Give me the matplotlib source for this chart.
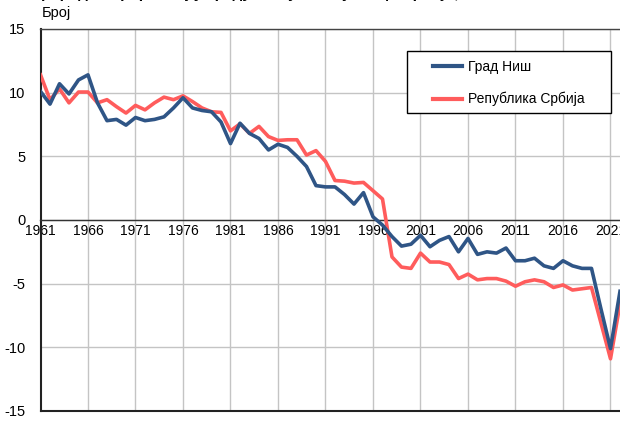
import matplotlib
matplotlib.use("Agg")
import matplotlib.pyplot as plt
from matplotlib.patches import Rectangle

plt.rcParams['font.family'] = ['Liberation Sans', 'DejaVu Sans']

years = list(range(1961, 2023))
nis = [10.1, 9.1, 10.7, 9.9, 11.0, 11.4, 9.2, 7.8, 7.9, 7.45,
       8.05, 7.8, 7.9, 8.1, 8.8, 9.6, 8.8, 8.6, 8.5, 7.7,
       6.0, 7.6, 6.8, 6.4, 5.5, 5.95, 5.7, 5.0, 4.2, 2.7,
       2.6, 2.6, 2.0, 1.25, 2.15, 0.25, -0.4, -1.3, -2.05, -1.9,
       -1.2, -2.1, -1.6, -1.3, -2.5, -1.45, -2.7, -2.5, -2.6, -2.2,
       -3.2, -3.2, -3.0, -3.6, -3.8, -3.2, -3.6, -3.8, -3.8, -7.0,
       -10.1, -5.6]
srbija = [11.4, 9.45, 10.3, 9.2, 10.05, 10.05, 9.2, 9.45, 8.9, 8.4,
          9.0, 8.65, 9.2, 9.65, 9.45, 9.75, 9.3, 8.8, 8.5, 8.45,
          7.0, 7.55, 6.8, 7.35, 6.55, 6.25, 6.3, 6.3, 5.1, 5.45,
          4.6, 3.1, 3.05, 2.9, 2.95, 2.3, 1.65, -2.9, -3.7, -3.8,
          -2.6, -3.3, -3.3, -3.5, -4.6, -4.25, -4.7, -4.6, -4.6, -4.8,
          -5.2, -4.85, -4.7, -4.85, -5.3, -5.1, -5.5, -5.4, -5.3, -8.1,
          -10.9, -6.6]
series_names = ['Град Ниш', 'Република Србија']
colors = ['#2F5586', '#FF5C5C']
x_ticks = list(range(1961, 2022, 5))
x_labels = [str(y) for y in x_ticks]
y_ticks = [15, 10, 5, 0, -5, -10, -15]

W, H = 620, 428
fig = plt.figure(figsize=(6.2, 4.28), dpi=100)
ax = fig.add_axes([40.5/W, 1-411/H, (61.7*9.5)/W, (411-29)/H])

ax.plot(years, nis, color=colors[0], lw=2.6, label=series_names[0], solid_joinstyle='round', zorder=4)
ax.plot(years, srbija, color=colors[1], lw=2.6, label=series_names[1], solid_joinstyle='round', zorder=3)

ax.set_xlim(1961, 2022.7)
ax.set_ylim(-15, 15)
ax.set_xticks(x_ticks)
ax.set_xticklabels(x_labels, fontsize=10.5)
ax.set_yticks(y_ticks)
ax.set_yticklabels([str(v) for v in y_ticks], fontsize=10.5)
ax.grid(True, color='#C4C4C4', lw=1.0, zorder=0)
ax.set_axisbelow(True)

ax.spines['bottom'].set_position(('data', 0))
ax.spines['bottom'].set_color('#333333')
ax.spines['bottom'].set_linewidth(1.0)
ax.spines['left'].set_color('#222222')
ax.spines['left'].set_linewidth(1.5)
ax.spines['right'].set_visible(False)
ax.spines['top'].set_color('#444444')
ax.spines['top'].set_linewidth(1.0)
ax.axhline(-15, color='#222222', lw=1.5, clip_on=False, zorder=5)
ax.tick_params(axis='both', length=0)
ax.tick_params(axis='x', pad=3)
ax.tick_params(axis='y', pad=11)

fig.text(42/W, 1-13/H, 'Број', fontsize=10.5, va='center', ha='left')
fig.text(30/W, 1+1.5/H,
         'Природни прираштај у Граду Нишу и Републици Србији, 1961–2022.',
         fontsize=11, fontweight='bold', va='baseline', ha='left')

# legend box
ax.add_patch(Rectangle((407/W, 1-113/H), (611-407)/W, (113-51)/H,
                       transform=fig.transFigure, facecolor='white',
                       edgecolor='black', lw=1.0, zorder=6, clip_on=False))
leg = ax.legend(loc='upper left', bbox_to_anchor=(433/W, 1-60/H),
                bbox_transform=fig.transFigure, fontsize=10,
                frameon=False, handlelength=2.1, handletextpad=0.45,
                labelspacing=1.3, borderpad=0, borderaxespad=0)
leg.set_zorder(7)
for line in leg.get_lines():
    line.set_linewidth(3)

fig.savefig('out.png', dpi=100)
